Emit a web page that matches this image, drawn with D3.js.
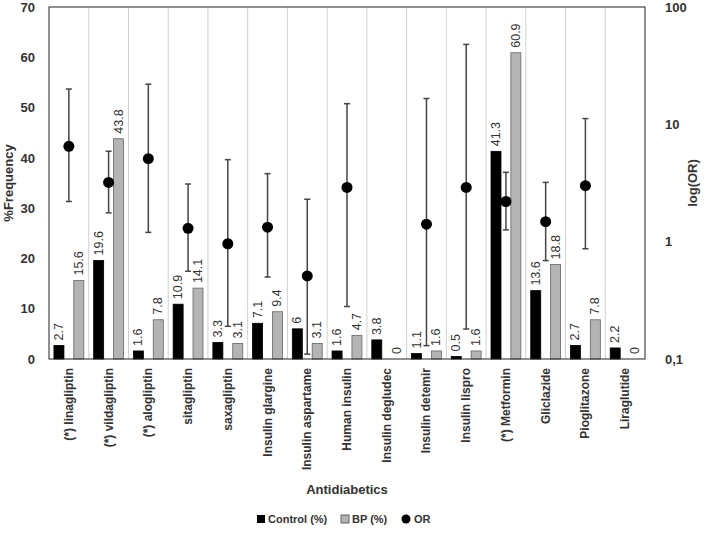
<!DOCTYPE html>
<html><head><meta charset="utf-8">
<script src="https://cdn.jsdelivr.net/npm/d3@7"></script>
<style>body{margin:0;background:#fff}text{font-family:"Liberation Sans",Arial,sans-serif}</style>
</head><body><svg id="c" width="709" height="539"></svg>
<script>
const categories=["(*) linagliptin","(*) vildagliptin","(*) alogliptin","sitagliptin","saxagliptin","Insulin glargine","Insulin aspartame","Human insulin","Insulin degludec","Insulin detemir","Insulin lispro","(*) Metformin","Gliclazide","Pioglitazone","Liraglutide"];
const controlPct=[2.7,19.6,1.6,10.9,3.3,7.1,6,1.6,3.8,1.1,0.5,41.3,13.6,2.7,2.2];
const bpPct=[15.6,43.8,7.8,14.1,3.1,9.4,3.1,4.7,0,1.6,1.6,60.9,18.8,7.8,0];
const orVal=[6.5,3.2,5.1,1.3,0.96,1.33,0.51,2.9,null,1.41,2.9,2.2,1.48,3.0,null];
const orLow=[2.2,1.76,1.2,0.56,0.19,0.5,0.11,0.28,null,0.13,0.18,1.26,0.69,0.87,null];
const orHigh=[20,5.9,22,3.1,5.0,3.8,2.3,15,null,16.6,48,3.9,3.2,11.2,null];
const leftTicks=[0,10,20,30,40,50,60,70];
const rightTicks=[0.1,1,10,100];

const svg=d3.select("#c");
const L=49,R=645,T=7,B=359;
const x=d3.scaleBand().domain(categories).range([L,R]);
const y=d3.scaleLinear().domain([0,70]).range([B,T]);
const yl=d3.scaleLog().domain([0.1,100]).range([B,T]);
const bw=x.bandwidth();
// grid separators
svg.append("g").selectAll("line").data(categories.slice(1)).join("line")
 .attr("x1",d=>x(d)).attr("x2",d=>x(d)).attr("y1",T).attr("y2",B).attr("stroke","#d0d0d0");
// bars
const g=svg.append("g");
categories.forEach((c,i)=>{
 const x0=x(c);
 [[controlPct[i],0.25,"#000","#000"],[bpPct[i],0.75,"#b4b4b4","#666"]].forEach(([v,f,fill,st])=>{
  const cx=x0+bw*f;
  if(v>0) g.append("rect").attr("x",cx-5).attr("width",10).attr("y",y(v)).attr("height",B-y(v)).attr("fill",fill).attr("stroke",st).attr("stroke-width",0.8);
  const ty=y(v)-5;
  g.append("text").attr("transform",`translate(${cx+4},${ty}) rotate(-90)`).attr("font-size",12.5).attr("fill","#333").text(String(v));
 });
 if(orVal[i]!=null){
  const cx=x0+bw*0.5;
  g.append("line").attr("x1",cx).attr("x2",cx).attr("y1",yl(orLow[i])).attr("y2",yl(orHigh[i])).attr("stroke","#444").attr("stroke-width",1.5);
  [orLow[i],orHigh[i]].forEach(v=>g.append("line").attr("x1",cx-3).attr("x2",cx+3).attr("y1",yl(v)).attr("y2",yl(v)).attr("stroke","#444").attr("stroke-width",1.5));
  g.append("circle").attr("cx",cx).attr("cy",yl(orVal[i])).attr("r",5.5).attr("fill","#000");
 }
});
// frame
svg.append("rect").attr("x",L).attr("y",T).attr("width",R-L).attr("height",B-T).attr("fill","none").attr("stroke","#222").attr("stroke-width",1);
// left axis
const ax=svg.append("g").attr("transform",`translate(${L},0)`).call(d3.axisLeft(y).tickValues(leftTicks).tickSize(0).tickPadding(14));
ax.select(".domain").remove();
ax.selectAll("text").attr("font-size",13).attr("font-weight","bold").attr("fill","#333");
const ar=svg.append("g").attr("transform",`translate(${R},0)`).call(d3.axisRight(yl).tickValues(rightTicks).tickSize(0).tickPadding(20).tickFormat(d=>d===0.1?"0,1":String(d)));
ar.select(".domain").remove();
ar.selectAll("text").attr("font-size",13).attr("font-weight","bold").attr("fill","#333");
// x labels
svg.append("g").selectAll("text").data(categories).join("text")
 .attr("transform",d=>`translate(${x(d)+bw/2+4},368) rotate(-90)`).attr("text-anchor","end")
 .attr("font-size",12).attr("font-weight","bold").attr("fill","#333").text(d=>d);
svg.append("text").attr("x",(L+R)/2).attr("y",494).attr("text-anchor","middle").attr("font-size",13).attr("font-weight","bold").attr("fill","#333").text("Antidiabetics");
svg.append("text").attr("transform","translate(13,183) rotate(-90)").attr("text-anchor","middle").attr("font-size",13).attr("font-weight","bold").attr("fill","#333").text("%Frequency");
svg.append("text").attr("transform","translate(697,183) rotate(-90)").attr("text-anchor","middle").attr("font-size",13).attr("font-weight","bold").attr("fill","#333").text("log(OR)");
// legend
const lg=svg.append("g").attr("font-size",11).attr("font-weight","bold").attr("fill","#333");
lg.append("rect").attr("x",257).attr("y",515).attr("width",8).attr("height",8).attr("fill","#000");
lg.append("text").attr("x",268).attr("y",523).text("Control (%)");
lg.append("rect").attr("x",341).attr("y",515).attr("width",8).attr("height",8).attr("fill","#b4b4b4").attr("stroke","#666");
lg.append("text").attr("x",352).attr("y",523).text("BP (%)");
lg.append("circle").attr("cx",406).attr("cy",519).attr("r",4.5).attr("fill","#000");
lg.append("text").attr("x",414).attr("y",523).text("OR");
</script></body></html>
